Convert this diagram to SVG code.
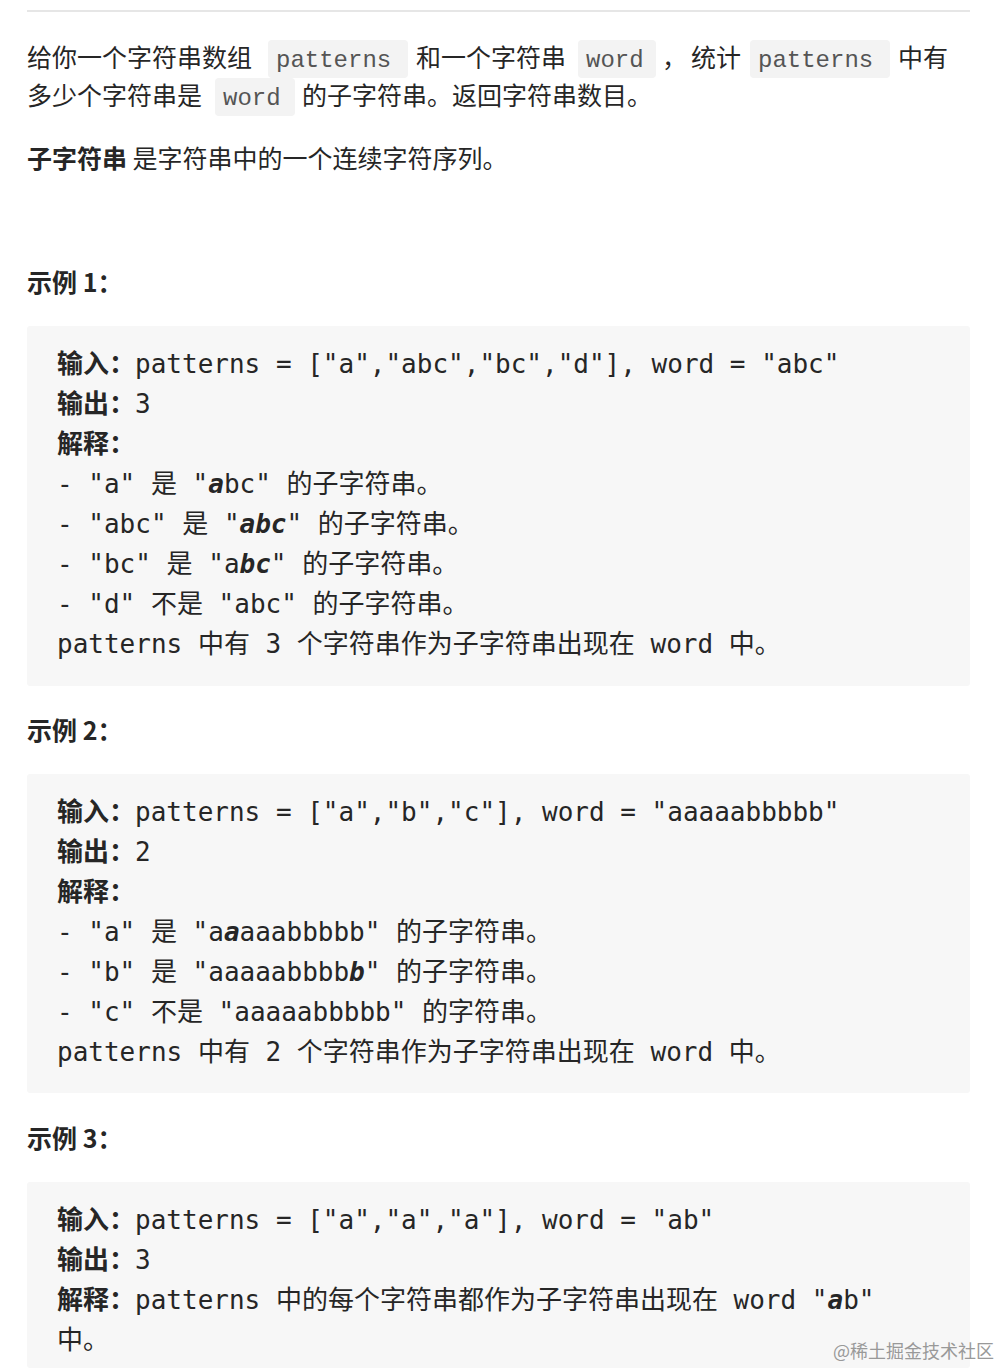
<svg xmlns="http://www.w3.org/2000/svg" width="1000" height="1368" viewBox="0 0 1000 1368">
<style>
.t{font-family:"Noto Sans CJK SC","Liberation Sans",sans-serif;font-size:25px;fill:#262626}
.b{font-weight:bold}
.c{font-family:"Liberation Mono","Noto Sans CJK SC",monospace;font-size:24px;fill:#555}
.chip{fill:#f3f3f3}
.blk{fill:#f7f7f7}
.m{font-family:"DejaVu Sans Mono","Noto Sans CJK SC",monospace;font-size:26px;fill:#262626;white-space:pre}
.bi{font-weight:bold;font-style:italic}
</style>
<rect width="1000" height="1368" fill="#fff"/>
<line x1="27" y1="11" x2="970" y2="11" stroke="#e6e6e6" stroke-width="2"/>
<g id="intro">
<rect class="chip" x="268" y="40" width="140" height="38" rx="4"/>
<rect class="chip" x="578" y="40" width="78" height="38" rx="4"/>
<rect class="chip" x="750" y="40" width="140" height="38" rx="4"/>
<rect class="chip" x="215" y="78" width="80" height="38" rx="4"/>
<text class="t" x="27" y="67">给你一个字符串数组</text>
<text class="c" x="276" y="67">patterns</text>
<text class="t" x="416" y="67">和一个字符串</text>
<text class="c" x="586" y="67">word</text>
<text class="t" x="662" y="67">，</text>
<text class="t" x="691" y="67">统计</text>
<text class="c" x="758" y="67">patterns</text>
<text class="t" x="898" y="67">中有</text>
<text class="t" x="27" y="105">多少个字符串是</text>
<text class="c" x="223" y="105">word</text>
<text class="t" x="302" y="105">的子字符串。返回字符串数目。</text>
<text class="t" x="27" y="168"><tspan class="b">子字符串</tspan> 是字符串中的一个连续字符序列。</text>
</g>
<g id="ex1">
<text class="t b" x="27" y="292">示例 1：</text>
<rect class="blk" x="27" y="326" width="943" height="360" rx="3"/>
<text class="m" x="57" y="373"><tspan class="b">输入：</tspan>patterns = ["a","abc","bc","d"], word = "abc"</text>
<text class="m" x="57" y="413"><tspan class="b">输出：</tspan>3</text>
<text class="m b" x="57" y="453">解释：</text>
<text class="m" x="57" y="493">- "a" 是 "<tspan class="bi">a</tspan>bc" 的子字符串。</text>
<text class="m" x="57" y="533">- "abc" 是 "<tspan class="bi">abc</tspan>" 的子字符串。</text>
<text class="m" x="57" y="573">- "bc" 是 "a<tspan class="bi">bc</tspan>" 的子字符串。</text>
<text class="m" x="57" y="613">- "d" 不是 "abc" 的子字符串。</text>
<text class="m" x="57" y="653">patterns 中有 3 个字符串作为子字符串出现在 word 中。</text>
</g>
<g id="ex2">
<text class="t b" x="27" y="740">示例 2：</text>
<rect class="blk" x="27" y="774" width="943" height="319" rx="3"/>
<text class="m" x="57" y="821"><tspan class="b">输入：</tspan>patterns = ["a","b","c"], word = "aaaaabbbbb"</text>
<text class="m" x="57" y="861"><tspan class="b">输出：</tspan>2</text>
<text class="m b" x="57" y="901">解释：</text>
<text class="m" x="57" y="941">- "a" 是 "a<tspan class="bi">a</tspan>aaabbbbb" 的子字符串。</text>
<text class="m" x="57" y="981">- "b" 是 "aaaaabbbb<tspan class="bi">b</tspan>" 的子字符串。</text>
<text class="m" x="57" y="1021">- "c" 不是 "aaaaabbbbb" 的字符串。</text>
<text class="m" x="57" y="1061">patterns 中有 2 个字符串作为子字符串出现在 word 中。</text>
</g>
<g id="ex3">
<text class="t b" x="27" y="1148">示例 3：</text>
<rect class="blk" x="27" y="1182" width="943" height="186" rx="3"/>
<text class="m" x="57" y="1229"><tspan class="b">输入：</tspan>patterns = ["a","a","a"], word = "ab"</text>
<text class="m" x="57" y="1269"><tspan class="b">输出：</tspan>3</text>
<text class="m" x="57" y="1309"><tspan class="b">解释：</tspan>patterns 中的每个字符串都作为子字符串出现在 word "<tspan class="bi">a</tspan>b"</text>
<text class="m" x="57" y="1349">中。</text>
</g>
<text x="833" y="1358" style="font-family:'Noto Sans CJK SC',sans-serif;font-size:18px;fill:#999">@稀土掘金技术社区</text>
</svg>
